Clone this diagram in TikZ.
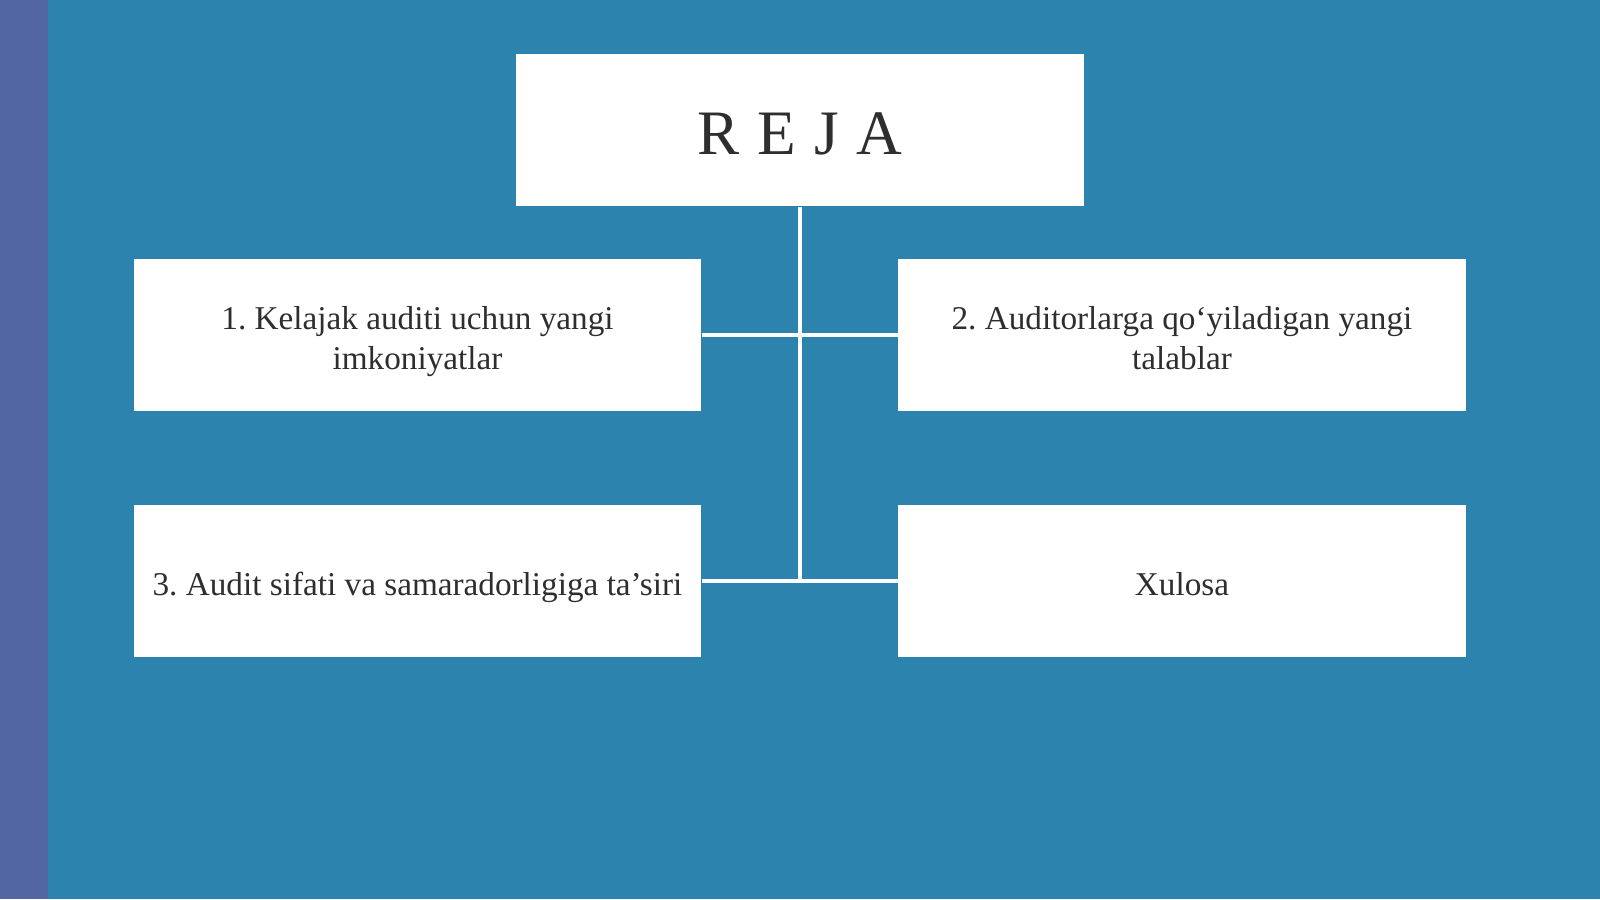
\documentclass[tikz,border=0pt]{standalone}
\usepackage{fontspec}
\setmainfont{Liberation Serif}
\usepackage{xcolor}
\definecolor{slideblue}{HTML}{2C84AE}
\definecolor{stripeblue}{HTML}{5166A2}
\definecolor{rejagray}{HTML}{2E2E2E}
\usepackage{tikz}
\usetikzlibrary{positioning}
\frenchspacing
\newcommand\bxtop{\rule{0pt}{10.4pt}}
\newcommand\bxbot{\rule[-2.1pt]{0pt}{2.1pt}}

\begin{document}
\begin{tikzpicture}[x=0.01cm,y=-0.01cm,
  planbox/.style={rectangle,fill=white,minimum width=5.67cm,minimum height=1.52cm,
    inner sep=0pt,align=center,text=rejagray,font=\fontsize{9.45}{11.3}\selectfont},
  link/.style={white,line width=0.04cm}]
  % slide background
  \fill[slideblue] (0,0) rectangle (1600,899);
  \fill[stripeblue] (0,0) rectangle (48,899);
  \useasboundingbox (0,0) rectangle (1600,899);
  % boxes
  \node[planbox,minimum width=5.68cm,font=\fontsize{18}{21}\selectfont] (reja) at (800,130)
    {\rule{0pt}{14.2pt}R\hspace{0.28em}E\hspace{0.28em}J\hspace{0.28em}A};
  \node[planbox] (imkon) at (417.5,335) {\bxtop 1. Kelajak auditi uchun yangi\\imkoniyatlar\bxbot};
  \node[planbox] (talab) at (1182,335) {\bxtop 2. Auditorlarga qo‘yiladigan yangi\\talablar\bxbot};
  \node[planbox] (tasir) at (417.5,581) {\bxtop 3. Audit sifati va samaradorligiga ta’siri\bxbot};
  \node[planbox] (xulosa) at (1182,581) {\bxtop Xulosa\bxbot};
  % connectors
  \draw[link] (reja.south) -- (reja.south |- tasir.east);
  \draw[link] (imkon.east) -- (talab.west);
  \draw[link] (tasir.east) -- (xulosa.west);
\end{tikzpicture}
\end{document}
